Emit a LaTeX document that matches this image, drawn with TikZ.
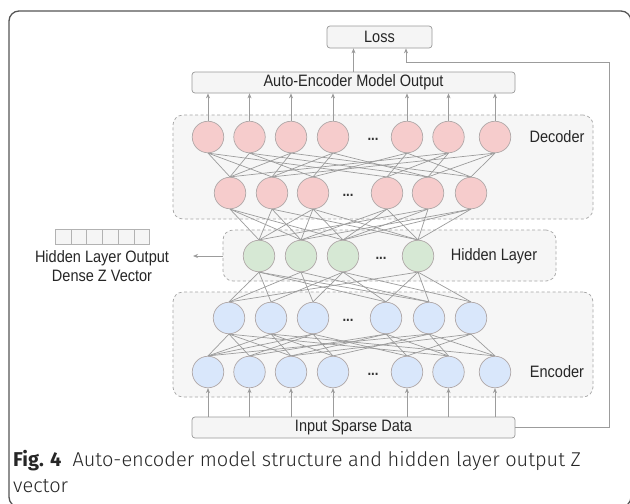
\documentclass[tikz,border=0pt]{standalone}
\usepackage{fontspec}
\setmainfont{Fira Sans Light}[BoldFont={Fira Sans Bold}]
\newfontfamily\diagfont[FakeStretch=0.88]{Liberation Sans}
\usetikzlibrary{arrows.meta,calc}
\definecolor{lineg}{HTML}{9C9C9C}
\definecolor{nborder}{HTML}{B0A8A8}
\definecolor{decfill}{HTML}{F6CCCC}
\definecolor{hidfill}{HTML}{D6E8D4}
\definecolor{encfill}{HTML}{D9E7FB}
\definecolor{boxfill}{HTML}{F5F5F5}
\definecolor{grpfill}{HTML}{F6F6F6}
\definecolor{framec}{HTML}{555555}
\tikzset{
  neur/.style={circle, minimum size=31.5pt, inner sep=0pt, draw=nborder, line width=0.7pt},
  dec/.style={neur, fill=decfill},
  hid/.style={neur, fill=hidfill},
  enc/.style={neur, fill=encfill},
  grp/.style={draw=black!35, dashed, dash pattern=on 3pt off 2.5pt, fill=grpfill, rounded corners=10pt, line width=0.7pt, inner sep=0pt},
  tbox/.style={draw=black!40, fill=boxfill, rounded corners=3pt, line width=0.7pt, inner sep=0pt, font=\diagfont\fontsize{16.5}{18}\selectfont, text=black!85},
  lbl/.style={font=\diagfont\fontsize{16.5}{18}\selectfont, text=black!85, inner sep=0pt},
  dots/.style={font=\diagfont\bfseries\fontsize{15}{15}\selectfont, text=black!80, inner sep=0pt},
  conn/.style={draw=lineg, line width=0.7pt},
  arr/.style={draw=lineg, line width=0.8pt, -{Stealth[length=5pt,width=4pt]}},
  cell/.style={draw=black!30, fill=boxfill, line width=0.6pt, minimum width=15.7pt, minimum height=15pt, inner sep=0pt}
}
\begin{document}
\begin{tikzpicture}[x=1pt,y=-1pt]
\useasboundingbox (0,0) rectangle (630,504);
\clip (0,0) rectangle (630,504);
\fill[white] (0,0) rectangle (630,504);
% outer frame
\draw[line width=1.3pt, draw=framec, rounded corners=10pt] (9,11) rectangle (631,507);

% group boxes
\node[grp, minimum width=420pt, minimum height=104pt] (decgrp) at (383,167) {};
\node[grp, minimum width=333pt, minimum height=51pt] (hidgrp) at (389.5,255.5) {};
\node[grp, minimum width=420pt, minimum height=105pt] (encgrp) at (383,344.5) {};

% text boxes
\node[tbox, minimum width=105pt, minimum height=22pt] (loss) at (379.5,37) {Loss};
\node[tbox, minimum width=323pt, minimum height=21pt] (aeout) at (353.5,82.5) {Auto-Encoder Model Output};
\node[tbox, minimum width=323pt, minimum height=21pt] (inp) at (353.5,427.5) {Input Sparse Data};

% group labels
\node[lbl] (declbl) at (557,137) {Decoder};
\node[lbl] (hidlbl) at (494,256) {Hidden Layer};
\node[lbl] (enclbl) at (557,372) {Encoder};

% decoder nodes
\foreach \i/\x in {1/208,2/249.5,3/291,4/333,5/407,6/448.5,7/495}
  \node[dec] (A\i) at (\x,137) {};
\node[dots] (dA) at (373,139) {...};
\foreach \i/\x in {1/230,2/272,3/313,4/387,5/428,6/471}
  \node[dec] (B\i) at (\x,193) {};
\node[dots] (dB) at (348,195) {...};
% hidden nodes
\foreach \i/\x in {1/259,2/301,3/343,4/418}
  \node[hid] (H\i) at (\x,256) {};
\node[dots] (dH) at (381,258) {...};
% encoder nodes
\foreach \i/\x in {1/229,2/271,3/313,4/386,5/429,6/471}
  \node[enc] (E\i) at (\x,318) {};
\node[dots] (dE) at (348,320) {...};
\foreach \i/\x in {1/208,2/249.5,3/291,4/333,5/407,6/448.5,7/495}
  \node[enc] (F\i) at (\x,372) {};
\node[dots] (dF) at (373,374) {...};

% connections decoder A -> B
\foreach \i/\l in {1/{1,2,4},2/{1,3,5},3/{1,2,6},4/{2,3,5},5/{3,4,6},6/{1,4,5},7/{2,5,6}}
  \foreach \j in \l \draw[conn] (A\i.south) -- (B\j.north);
% B -> H
\foreach \i/\l in {1/{1,2,3},2/{1,2,4},3/{1,2,3,4},4/{2,3,4},5/{1,3,4},6/{2,3,4}}
  \foreach \j in \l \draw[conn] (B\i.south) -- (H\j.north);
% H -> E
\foreach \i/\l in {1/{1,2,4,5},2/{1,3,5},3/{2,3,4,6},4/{1,4,5,6}}
  \foreach \j in \l \draw[conn] (H\i.south) -- (E\j.north);
% E -> F
\foreach \i/\l in {1/{1,2,3,5},2/{1,3,4},3/{1,2,4,6},4/{2,3,5},5/{3,4,6},6/{1,4,5},7/{2,5,6}}
  \foreach \j in \l \draw[conn] (E\j.south) -- (F\i.north);

% arrows to output and from input
\foreach \i in {1,...,7} {
  \draw[arr] (A\i.north) -- (A\i.north |- aeout.south);
  \draw[arr] (F\i.south |- inp.north) -- (F\i.south);
}
\draw[arr] (aeout.north) -- (aeout.north |- loss.south);
\coordinate (fbR) at (609,427.5);
\coordinate (fbT) at (609,62);
\coordinate (fbL) at (406,62);
\draw[arr] (inp.east) -- (fbR) -- (fbT) -- (fbL) -- (fbL |- loss.south);

% hidden output
\coordinate (hout) at (193,256);
\draw[arr] (hidgrp.west |- hout) -- (hout);
\foreach \k in {0,...,5}
  \node[cell, anchor=north west] (c\k) at (55+15.7*\k,229) {};
\node[lbl] (ho1) at (102,258) {Hidden Layer Output};
\node[lbl] (ho2) at (102,275.5) {Dense Z Vector};

% caption
\node[anchor=base west, inner sep=0pt, font=\fontsize{20}{25}\selectfont, text=black!85] (cap1) at (13,466) {\textbf{Fig. 4}\ \ Auto-encoder model structure and hidden layer output Z};
\node[anchor=base west, inner sep=0pt, font=\fontsize{20}{25}\selectfont, text=black!85] (cap2) at (13,492) {vector};
\end{tikzpicture}
\end{document}
